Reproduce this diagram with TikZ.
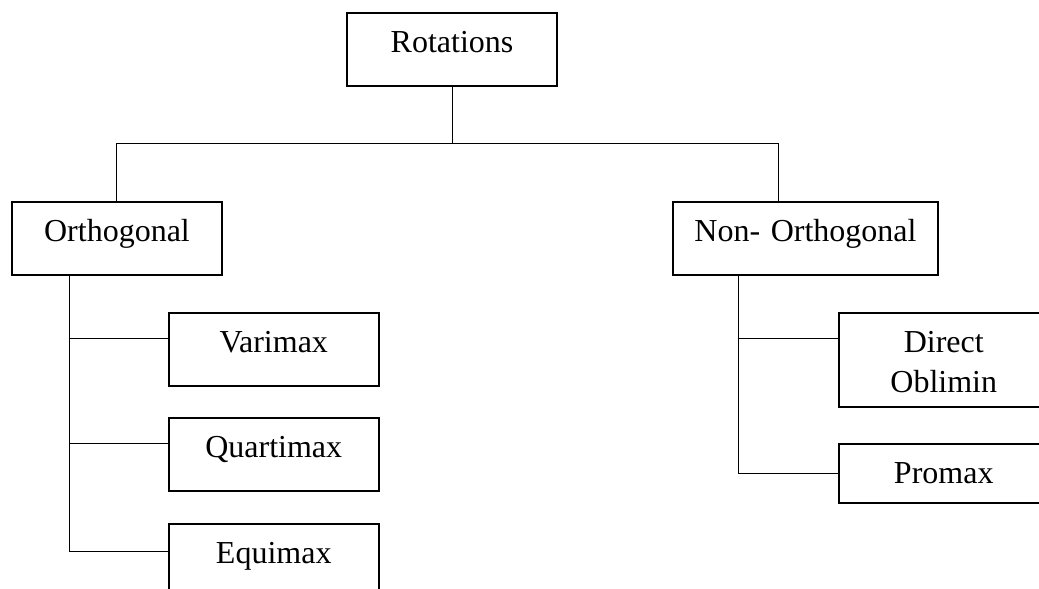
\documentclass[tikz,border=0pt]{standalone}
\usepackage{fontspec}
\setmainfont{Liberation Serif}
\usetikzlibrary{positioning}

\tikzset{
  rotbox/.style={draw, line width=0.75pt, inner sep=0pt, text width=105pt, align=center,
                 text height=20pt, text depth=16.5pt},
  link/.style={line width=0.4pt},
}

\begin{document}
\begin{tikzpicture}[x=0.5pt,y=-0.5pt,font=\fontsize{16}{20}\selectfont]
				%\draw[color=gray,step=10, help lines,opacity=0.3] (0,0) grid (1039,589); %help grids
				\useasboundingbox (0,0) rectangle (1039,589);
				\clip (0,0) rectangle (1039,589);
				\node[rotbox,anchor=north] (rot) at (452,12) {Rotations};
				\node[rotbox,anchor=north] (orth) at (117,201) {Orthogonal};
				\node[rotbox,anchor=north,text width=132.5pt] (nonorth) at (805.5,201) {Non- Orthogonal};
				% left branch
				\node[rotbox,anchor=north west] (varimax) at (168,312) {Varimax};
				\node[rotbox,anchor=north west] (quartimax) at (168,417) {Quartimax};
				\node[rotbox,anchor=north west] (equimax) at (168,523) {Equimax};
				% right branch
				\node[rotbox,anchor=north west,text depth=27pt] (direct) at (838,312) {Direct\\Oblimin};
				\node[rotbox,anchor=north west,text depth=9.5pt] (promax) at (838,443) {Promax};
				% bus
				\coordinate (busL) at (116,143);
				\coordinate (busR) at (778,143);
				\draw[link] (rot.south) -- (rot.south |- busL);
				\draw[link] (orth.north -| busL) -- (busL) -- (busR) -- (nonorth.north -| busR);
				% stems
				\coordinate (stemO) at (69,551);
				\coordinate (brV) at (69,338);
				\coordinate (brQ) at (69,443);
				\draw[link] (orth.south -| stemO) -- (stemO) -- (equimax.west |- stemO);
				\draw[link] (brV) -- (varimax.west |- brV);
				\draw[link] (brQ) -- (quartimax.west |- brQ);
				\coordinate (stemN) at (738,473);
				\coordinate (brD) at (738,338);
				\draw[link] (nonorth.south -| stemN) -- (stemN) -- (promax.west |- stemN);
				\draw[link] (brD) -- (direct.west |- brD);
\end{tikzpicture}
\end{document}
